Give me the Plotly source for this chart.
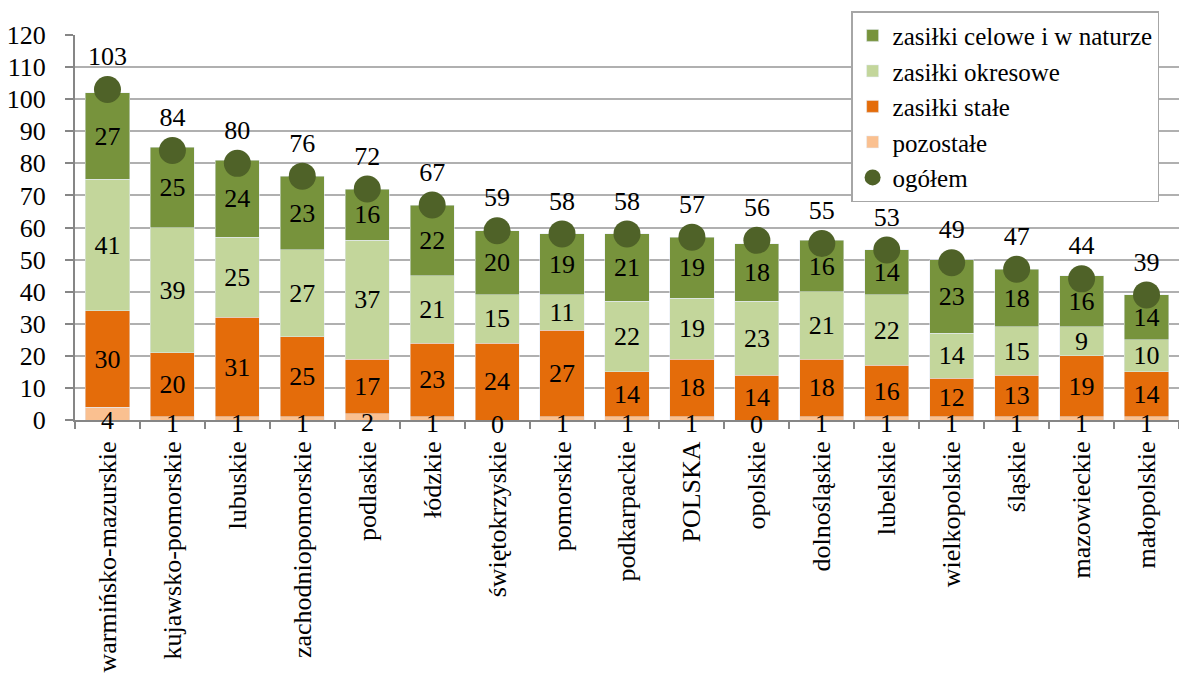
import plotly.graph_objects as go

categories = ["warmińsko-mazurskie", "kujawsko-pomorskie", "lubuskie", "zachodniopomorskie",
              "podlaskie", "łódzkie", "świętokrzyskie", "pomorskie", "podkarpackie", "POLSKA",
              "opolskie", "dolnośląskie", "lubelskie", "wielkopolskie", "śląskie",
              "mazowieckie", "małopolskie"]
pozostale = [4, 1, 1, 1, 2, 1, 0, 1, 1, 1, 0, 1, 1, 1, 1, 1, 1]
stale = [30, 20, 31, 25, 17, 23, 24, 27, 14, 18, 14, 18, 16, 12, 13, 19, 14]
okresowe = [41, 39, 25, 27, 37, 21, 15, 11, 22, 19, 23, 21, 22, 14, 15, 9, 10]
celowe = [27, 25, 24, 23, 16, 22, 20, 19, 21, 19, 18, 16, 14, 23, 18, 16, 14]
ogolem = [103, 84, 80, 76, 72, 67, 59, 58, 58, 57, 56, 55, 53, 49, 47, 44, 39]
y_ticks = list(range(0, 121, 10))

FONT = "Liberation Serif"
FS = 26

tf = dict(color="black", size=FS, family=FONT)

fig = go.Figure()
fig.add_bar(x=categories, y=pozostale, name="pozostałe", marker_color="#fac090",
            legendrank=4, hoverinfo="skip")
fig.add_bar(x=categories, y=stale, name="zasiłki stałe", marker_color="#e46c0a",
            text=stale, textposition="inside", insidetextanchor="middle", textangle=0,
            textfont=tf, legendrank=3)
fig.add_bar(x=categories, y=okresowe, name="zasiłki okresowe", marker_color="#c3d69b",
            text=okresowe, textposition="inside", insidetextanchor="middle", textangle=0,
            textfont=tf, legendrank=2)
fig.add_bar(x=categories, y=celowe, name="zasiłki celowe i w naturze", marker_color="#77933c",
            text=celowe, textposition="inside", insidetextanchor="middle", textangle=0,
            textfont=tf, legendrank=1)
fig.add_scatter(x=categories, y=ogolem, name="ogółem", mode="markers+text",
                marker=dict(color="#4f6228", size=27, symbol="circle"),
                text=[str(v) for v in ogolem], textposition="top center",
                textfont=tf, legendrank=5, cliponaxis=False)

# labels for the small "pozostałe" segment, sitting on the axis line as in the original
for cat, v in zip(categories, pozostale):
    fig.add_annotation(x=cat, y=v / 4, text=str(v), showarrow=False,
                       xref="x", yref="y", yanchor="middle", yshift=-4,
                       font=tf)

fig.update_layout(
    width=1179, height=684,
    barmode="stack", bargap=0.32,
    plot_bgcolor="white", paper_bgcolor="white",
    margin=dict(l=75, r=0, t=35, b=264, autoexpand=False),
    font=dict(family=FONT, size=FS, color="black"),
    uniformtext=dict(minsize=FS, mode="show"),
    legend=dict(x=0.703, y=1.062, xanchor="left", yanchor="top",
                traceorder="normal", bgcolor="white", bordercolor="#a6a6a6",
                borderwidth=1.5, font=dict(size=25, family=FONT, color="black"),
                tracegroupgap=0, itemwidth=30),
    showlegend=True,
)
fig.update_xaxes(range=[-0.5, len(categories) - 0.5],
                 showline=True, linecolor="#868686", linewidth=2, automargin=False,
                 ticks="outside", tickson="boundaries", ticklen=7, tickcolor="#868686",
                 tickwidth=2, tickangle=-90, ticklabelstandoff=9,
                 tickfont=dict(size=FS, family=FONT, color="black"))
fig.update_yaxes(range=[0, 120], tickvals=y_ticks, showgrid=True, gridcolor="#b0b0b0",
                 gridwidth=1.5, showline=True, linecolor="#868686", linewidth=2,
                 ticks="outside", ticklen=8, tickcolor="#868686", tickwidth=2,
                 ticklabelstandoff=14, zeroline=False, automargin=False,
                 tickfont=dict(size=FS, family=FONT, color="black"))
fig.write_html("out.html", config={"displayModeBar": False},
               post_script="document.body.style.margin='0';document.body.style.overflow='hidden';")
